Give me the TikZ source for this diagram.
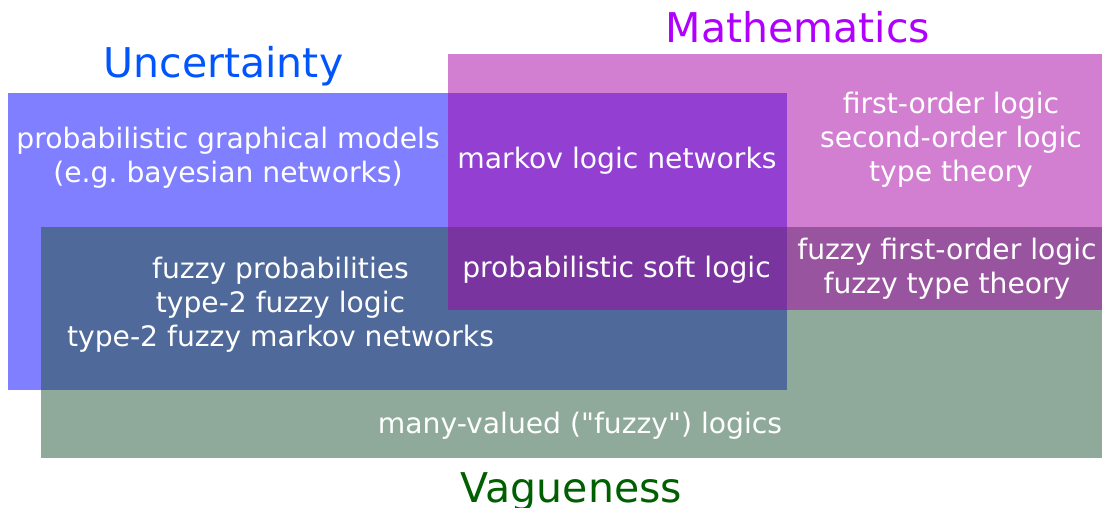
\documentclass[tikz,border=0pt]{standalone}
\usepackage{fontspec}
\setmainfont{DejaVu Sans}[Ligatures=TeXOff]
\frenchspacing

\begin{document}
\begin{tikzpicture}[x=1pt,y=-1pt]

\definecolor{uncblue}{RGB}{0, 0, 255}
\definecolor{vaggreen}{RGB}{31, 85, 55}
\definecolor{mathmag}{RGB}{165, 0, 165}
\definecolor{unctitle}{RGB}{0, 85, 255}
\definecolor{mathtitle}{RGB}{175, 0, 255}
\definecolor{vagtitle}{RGB}{0, 95, 0}

\useasboundingbox (0,0) rectangle (1102,508);

\tikzset{
    region/.style={
        fill=#1, fill opacity=0.5
    },
    title/.style={
        text=#1, font=\fontsize{41}{49}\selectfont, inner sep=0pt
    },
    entry/.style={
        text=white, align=center, inner sep=0pt,
        font=\fontsize{28.2}{34}\selectfont
    }
}

% Overlapping regions
\fill[region=uncblue] (8,93) rectangle (787,390);
\fill[region=vaggreen] (41,227) rectangle (1102,458);
\fill[region=mathmag] (448,54) rectangle (1102,310);

% Titles
\node[title=unctitle, anchor=base] (Unc) at (223.5,78) {Uncertainty};
\node[title=mathtitle, anchor=base] (Math) at (798,43) {Mathematics};
\node[title=vagtitle, anchor=base] (Vag) at (571.5,502) {Vagueness};

% --- ENTRIES ---
\node[entry] (PGM) at (228,157.6) {probabilistic graphical models\\(e.g. bayesian networks)};
\node[entry, anchor=base] (MLN) at (617,168) {markov logic networks};
\node[entry] (FOL) at (951,139.6) {first-order logic\\second-order logic\\type theory};
\node[entry] (FP) at (280.5,304.7) {fuzzy probabilities\\type-2 fuzzy logic\\type-2 fuzzy markov networks};
\node[entry, anchor=base] (PSL) at (616.5,277) {probabilistic soft logic};
\node[entry] (FFOL) at (947,268.6) {fuzzy first-order logic\\fuzzy type theory};
\node[entry, anchor=base] (MVL) at (580,433) {many-valued ("fuzzy") logics};

\end{tikzpicture}
\end{document}
